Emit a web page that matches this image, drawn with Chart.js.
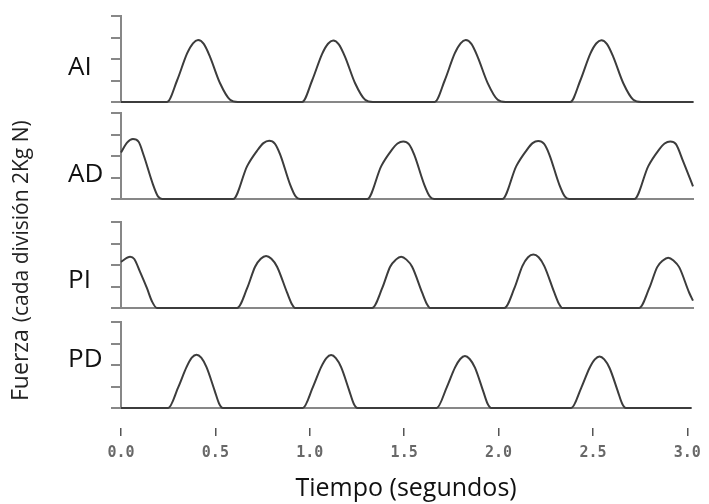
<!DOCTYPE html>
<html>
<head>
<meta charset="utf-8">
<script src="https://cdn.jsdelivr.net/npm/chart.js@4"></script>
<style>
  body { margin: 0; background: #fff; }
  #wrap { position: relative; width: 709px; height: 504px; }
  #wrap canvas { position: absolute; left: 0; top: 0; }
</style>
</head>
<body>
<div id="wrap">
  <canvas id="ai" width="709" height="504"></canvas>
  <canvas id="ad" width="709" height="504"></canvas>
  <canvas id="pi" width="709" height="504"></canvas>
  <canvas id="pd" width="709" height="504"></canvas>
</div>
<script>
/* ================= DATA ================= */

const panelNames = ["AI", "AD", "PI", "PD"];
const timeTicks = [0, 0.5, 1, 1.5, 2, 2.5, 3];
const timeTickLabels = ["0.0", "0.5", "1.0", "1.5", "2.0", "2.5", "3.0"];
const forceTicks = [0, 1, 2, 3, 4];
const xTitle = "Tiempo (segundos)";
const yTitleMain = "Fuerza";
const yTitleNote = "(cada división 2Kg N)";

// tiempo (s) / fuerza (divisiones)
const aiTime = [0,
  0.243, 0.296, 0.349, 0.380, 0.407, 0.437, 0.470, 0.523, 0.576, 0.617,
  0.956, 1.009, 1.062, 1.093, 1.120, 1.150, 1.183, 1.236, 1.289, 1.33,
  1.656, 1.709, 1.762, 1.793, 1.820, 1.850, 1.883, 1.936, 1.989, 2.03,
  2.372, 2.425, 2.478, 2.509, 2.536, 2.566, 2.599, 2.652, 2.705, 2.746,
  3.02];
const aiForce = [0,
  0, 1.0, 2.26, 2.73, 2.88, 2.70, 2.1, 0.87, 0.1, 0,
  0, 1.0, 2.24, 2.71, 2.86, 2.68, 2.1, 0.87, 0.1, 0,
  0, 1.0, 2.26, 2.73, 2.88, 2.70, 2.1, 0.88, 0.1, 0,
  0, 1.0, 2.25, 2.72, 2.87, 2.69, 2.1, 0.87, 0.1, 0,
  0];

const adTime = [0, 0.032, 0.063, 0.093, 0.121, 0.169, 0.195, 0.217,
  0.592, 0.666, 0.718, 0.752, 0.782, 0.812, 0.840, 0.893, 0.922, 0.945,
  1.300, 1.374, 1.426, 1.460, 1.490, 1.520, 1.548, 1.601, 1.630, 1.653,
  2.013, 2.087, 2.139, 2.173, 2.203, 2.233, 2.261, 2.314, 2.343, 2.366,
  2.710, 2.784, 2.836, 2.870, 2.900, 2.930, 2.968, 3.02];
const adForce = [2.16, 2.62, 2.79, 2.66, 2.0, 0.67, 0.12, 0,
  0, 1.53, 2.24, 2.60, 2.71, 2.58, 2.08, 0.67, 0.12, 0,
  0, 1.53, 2.24, 2.58, 2.68, 2.55, 2.06, 0.67, 0.12, 0,
  0, 1.53, 2.24, 2.60, 2.70, 2.57, 2.08, 0.67, 0.12, 0,
  0, 1.53, 2.24, 2.58, 2.68, 2.55, 1.75, 0.59];

const piTime = [0, 0.048, 0.070, 0.100, 0.137, 0.164, 0.190, 0.22,
  0.613, 0.666, 0.708, 0.738, 0.766, 0.794, 0.824, 0.877, 0.901, 0.919,
  1.326, 1.379, 1.421, 1.451, 1.479, 1.507, 1.537, 1.590, 1.614, 1.632,
  2.024, 2.077, 2.119, 2.149, 2.177, 2.205, 2.235, 2.288, 2.312, 2.330,
  2.736, 2.789, 2.831, 2.861, 2.889, 2.917, 2.947, 3.0, 3.02];
const piForce = [2.15, 2.38, 2.28, 1.69, 0.92, 0.3, 0, 0,
  0, 0.92, 1.92, 2.29, 2.42, 2.29, 1.92, 0.71, 0.2, 0,
  0, 0.92, 1.92, 2.25, 2.38, 2.25, 1.92, 0.71, 0.2, 0,
  0, 0.92, 1.95, 2.36, 2.49, 2.36, 1.95, 0.71, 0.2, 0,
  0, 0.92, 1.9, 2.21, 2.34, 2.21, 1.9, 0.71, 0.34];

const pdTime = [0,
  0.250, 0.303, 0.347, 0.375, 0.400, 0.425, 0.453, 0.496, 0.520, 0.540,
  0.963, 1.016, 1.060, 1.088, 1.113, 1.138, 1.166, 1.209, 1.233, 1.253,
  1.672, 1.725, 1.769, 1.797, 1.822, 1.847, 1.875, 1.918, 1.942, 1.962,
  2.385, 2.438, 2.482, 2.510, 2.535, 2.560, 2.588, 2.631, 2.655, 2.675,
  3.02];
const pdForce = [0,
  0, 0.96, 1.9, 2.34, 2.48, 2.34, 1.9, 0.81, 0.2, 0,
  0, 0.96, 1.9, 2.32, 2.46, 2.32, 1.9, 0.81, 0.2, 0,
  0, 0.95, 1.88, 2.28, 2.42, 2.28, 1.88, 0.8, 0.2, 0,
  0, 0.94, 1.86, 2.26, 2.40, 2.26, 1.86, 0.8, 0.2, 0,
  0];

/* ================= STYLE ================= */

const axisColor = "#878787";
const lineColor = "#3c3c3c";
const textFont = '"Open Sans", "Noto Sans", sans-serif';

// chart area top / bottom and label baseline for each panel
const panelLayout = [
  { top: 16, bottom: 102, labelY: 75 },
  { top: 113, bottom: 199, labelY: 182 },
  { top: 222, bottom: 308, labelY: 288 },
  { top: 322, bottom: 408, labelY: 367 }
];

/* ================= TEXT PLUGIN ================= */

const panelText = {
  id: "panelText",
  afterDraw(chart, args, opts) {
    const ctx = chart.ctx;
    ctx.save();
    ctx.fillStyle = "#111";
    ctx.textBaseline = "alphabetic";
    ctx.textAlign = "left";
    ctx.font = "26px " + textFont;
    ctx.fillText(opts.label, 68, opts.labelY);

    if (opts.axisTitle) {
      ctx.translate(28, 401);
      ctx.rotate(-Math.PI / 2);
      ctx.font = "23px " + textFont;
      ctx.fillStyle = "#222";
      ctx.fillText(yTitleMain, 0, 0);
      const w = ctx.measureText(yTitleMain).width;
      ctx.font = "21px " + textFont;
      ctx.fillText(yTitleNote, w + 7, 0);
    }
    ctx.restore();
  }
};

/* ================= CHARTS ================= */

function makePanel(id, index, times, forces) {
  const isLast = index === panelNames.length - 1;
  const lay = panelLayout[index];
  const points = times.map((t, i) => ({ x: t, y: forces[i] }));

  const scales = {
    x: {
      type: "linear",
      position: "bottom",
      min: 0,
      max: 3.02,
      weight: 0,
      ticks: { display: false },
      grid: { display: false },
      border: { display: true, color: axisColor, width: 2 },
      afterFit: (scale) => { scale.height = isLast ? 20 : 0; }
    },
    y: {
      type: "linear",
      min: 0,
      max: 4,
      afterBuildTicks: (scale) => { scale.ticks = forceTicks.map(v => ({ value: v })); },
      ticks: { display: false },
      grid: {
        drawOnChartArea: false,
        drawTicks: true,
        tickLength: 10,
        color: axisColor,
        lineWidth: 2
      },
      border: { display: true, color: axisColor, width: 2 },
      afterFit: (scale) => { scale.width = 121; }
    }
  };

  if (isLast) {
    scales.x2 = {
      type: "linear",
      position: "bottom",
      min: 0,
      max: 3.02,
      weight: 1,
      afterBuildTicks: (scale) => { scale.ticks = timeTicks.map(v => ({ value: v })); },
      ticks: {
        callback: (v, i) => timeTickLabels[i],
        font: { family: '"DejaVu Sans Mono"', size: 15, weight: "bold" },
        color: "#686868",
        padding: 8,
        maxRotation: 0,
        autoSkip: false
      },
      grid: {
        drawOnChartArea: false,
        tickLength: 8,
        color: "#555",
        lineWidth: 1.5
      },
      border: { display: false },
      title: {
        display: true,
        text: xTitle,
        color: "#111",
        font: { family: textFont, size: 25 },
        padding: { top: 0, bottom: 0 }
      },
      afterFit: (scale) => { scale.height = 76; }
    };
  }

  return new Chart(document.getElementById(id), {
    type: "line",
    data: {
      datasets: [{
        label: panelNames[index],
        data: points,
        borderColor: lineColor,
        borderWidth: 2,
        pointRadius: 0,
        fill: false,
        cubicInterpolationMode: "monotone",
        clip: false
      }]
    },
    options: {
      responsive: false,
      animation: false,
      devicePixelRatio: 1,
      layout: {
        padding: { top: lay.top, bottom: isLast ? 0 : 504 - lay.bottom, left: 0, right: 16 }
      },
      plugins: {
        legend: { display: false },
        tooltip: { enabled: false },
        panelText: { label: panelNames[index], labelY: lay.labelY, axisTitle: isLast }
      },
      scales: scales
    },
    plugins: [panelText]
  });
}

makePanel("ai", 0, aiTime, aiForce);
makePanel("ad", 1, adTime, adForce);
makePanel("pi", 2, piTime, piForce);
makePanel("pd", 3, pdTime, pdForce);
</script>
</body>
</html>
